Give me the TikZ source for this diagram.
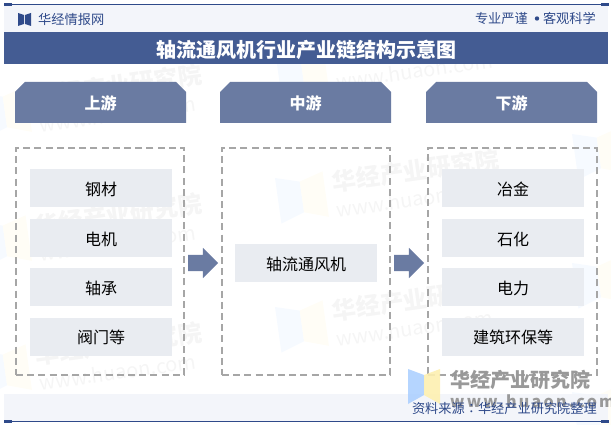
\documentclass[tikz,border=0pt]{standalone}
\usepackage{fontspec}
\setmainfont{Noto Sans CJK SC}
\newfontfamily\twfont{Noto Sans CJK TC}
\usepackage{tikz}
\usetikzlibrary{shapes.misc,shapes.arrows,positioning}

\definecolor{bandblue}{HTML}{445C93}
\definecolor{headblue}{HTML}{6A7BA2}
\definecolor{inkblue}{HTML}{2F4A8A}
\definecolor{paleband}{HTML}{F3F5FA}
\definecolor{itemgray}{HTML}{E9ECF1}
\definecolor{dashgray}{HTML}{A6A6A6}
\definecolor{logoblue}{HTML}{ADD0FF}
\definecolor{logoyellow}{HTML}{FDF0B0}

\newcommand{\fsz}[1]{\fontsize{#1}{#1}\selectfont}

\begin{document}
\begin{tikzpicture}[
    x=1pt, y=-1pt,
    node distance=11.4pt and 34pt,
    headbox/.style={chamfered rectangle, chamfered rectangle corners={north west,north east}, chamfered rectangle xsep=5pt, chamfered rectangle ysep=5pt, fill=headblue, text=white, minimum width=171pt, minimum height=41pt, inner sep=0pt, outer sep=0pt, text height=13.8pt, text depth=0pt, font=\fsz{16}\bfseries},
    framebox/.style={rectangle, draw=dashgray, line width=1.4pt, dash pattern=on 7pt off 4.2pt, minimum height=227pt, inner sep=0pt, outer sep=0pt},
    itembox/.style={rectangle, fill=itemgray, minimum width=142pt, minimum height=38pt, inner sep=0pt, outer sep=0pt, text height=14.2pt, text depth=0pt, font=\fsz{16}},
    flowarrow/.style={single arrow, fill=headblue, minimum height=30pt, minimum width=30pt, single arrow head extend=7pt, single arrow head indent=0pt, inner sep=0pt, text height=16pt, text width=0pt, outer sep=0pt, anchor=tip},
    wmarktext/.style={text=black!4, anchor=west, inner sep=0pt, rotate=8},
    infotext/.style={text=inkblue, inner sep=0pt, text height=10pt, text depth=0pt, font=\fsz{13.2}}
]
\clip (0,0) rectangle (611,425);

% Watermarks
\foreach \wx/\wy in {-22/93,-22/222,-22/351,275/50,275/178,275/307,572/134,572/263,572/392} {
    \begin{scope}[shift={(\wx,\wy)},rotate=8]
        \fill[logoblue!11] (0,0) -- (24,7) -- (24,38) -- (0,46) -- cycle;
        \fill[logoyellow!11] (24,7) -- (48,0) -- (48,46) -- (24,38) -- cycle;
    \end{scope}
}
\foreach \wx/\wy in {-22/93,-22/222,-22/351,275/50,275/178,275/307} {
    \begin{scope}[shift={(\wx,\wy)},rotate=8]
        \node[wmarktext, font=\fsz{24}\bfseries] (wmname) at (56,12) {华经产业研究院};
        \node[wmarktext, font=\fsz{20}] (wmurl) at (56,40) {www.huaon.com};
    \end{scope}
}

% Top and bottom bands
\fill[paleband] (4,5) rectangle (608,32);
\fill[paleband] (4,394) rectangle (608,421);
\node[rectangle, fill=bandblue, minimum width=604pt, minimum height=32pt, inner sep=0pt, text=white, text height=19.2pt, text depth=0pt, font=\fsz{20}\bfseries] (title) at (306,48) {轴流通风机行业产业链结构示意图};
\draw[inkblue, line width=0.9pt] (4,4.5) -- (608,4.5);
\draw[inkblue, line width=0.9pt] (4,421.5) -- (608,421.5);
\foreach \tx/\ty in {4/3,601/3,4/420,601/420} {
    \fill[inkblue] (\tx,\ty) rectangle ++(7.5,3);
}

% Site name and motto
\fill[inkblue] (18,13) -- (24,15) -- (24,24) -- (18,26) -- cycle;
\fill[inkblue] (31,13) -- (25,15) -- (25,24) -- (31,26) -- cycle;
\node[infotext, anchor=west] (site) at (38,19.4) {华经情报网};
\node[infotext, anchor=east] (motto2) at (596,18.3) {客观科学};
\node[infotext, anchor=east] (motto1) at (528,18.3) {专业严谨};
\fill[inkblue] (537,18.5) circle (2.2);

% Column heads
\node[headbox] (up) at (100.5,102.5) {上游};
\node[headbox, right=of up] (mid) {中游};
\node[headbox, right=35pt of mid] (down) {下游};

% Dashed frames
\node[framebox, minimum width=168pt] (upframe) at (100,261.5) {};
\node[framebox, minimum width=168pt] (midframe) at (306,261.5) {};
\node[framebox, minimum width=169pt] (downframe) at (512.5,261.5) {};

% Upstream items
\node[itembox] (steel) at (101,188.5) {钢材};
\node[itembox, below=of steel] (motor) {电机};
\node[itembox, below=of motor] (bearing) {轴承};
\node[itembox, below=of bearing] (valve) {阀门等};

% Midstream item
\node[itembox] (fan) at (306,263) {轴流通风机};

% Downstream items
\node[itembox] (metal) at (513,188.5) {冶金};
\node[itembox, below=of metal] (petro) {石化};
\node[itembox, below=of petro] (power) {电力};
\node[itembox, below=of power] (build) {建筑环保等};

% Arrows
\node[flowarrow] (uparrow) at (218,263) {};
\node[flowarrow] (downarrow) at (424,263) {};

% Logo and source
\begin{scope}[opacity=0.9]
    \fill[logoblue] (408,369) -- (424,375) -- (424,395) -- (408,404) -- cycle;
    \fill[logoyellow] (424,375) -- (440,369) -- (440,404) -- (424,395) -- cycle;
\end{scope}
\node[anchor=west, inner sep=0pt, text=black!40, text height=15.2pt, text depth=0pt, font=\fsz{20}\bfseries] (logoname) at (450,379.5) {华经产业研究院};
\node[anchor=west, inner sep=0pt, text=black!40, font=\fsz{16}\bfseries] (logourl) at (450,401) {\addfontfeature{LetterSpace=14}www.huaon.com};
\node[infotext, anchor=east] (source) at (597,408.2) {资料来源{\twfont ：}华经产业研究院整理};
\end{tikzpicture}
\end{document}
